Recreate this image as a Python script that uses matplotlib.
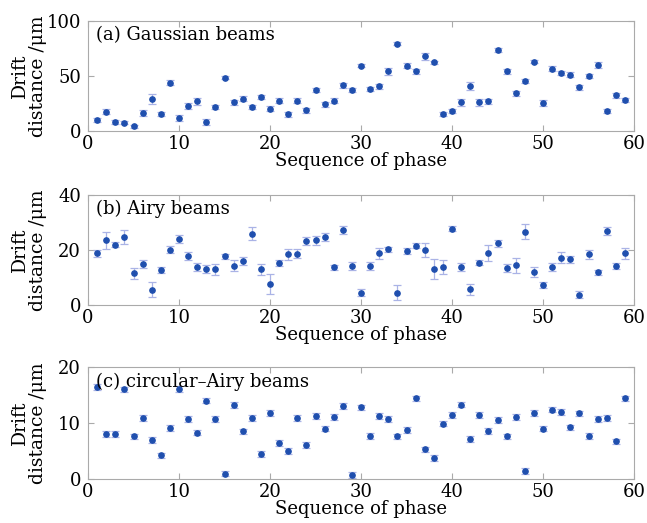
import numpy as np
import matplotlib
matplotlib.use("Agg")
import matplotlib.pyplot as plt

plt.rcParams['font.family'] = ['DejaVu Serif']

# sequence of phase
seq = list(range(1, 60))

# (a) Gaussian beams
gauss = [10, 17.6, 8.2, 7.6, 4.2, 16.4, 29, 15.5, 44, 12,
         22.7, 27, 8, 22, 48.5, 26, 29.4, 21.8, 31, 20.3,
         27.6, 15.2, 27.6, 18.8, 37.3, 24.2, 27.6, 41.5, 37.3, 59.4,
         38.2, 40.6, 54.2, 79.4, 59.4, 54.2, 68, 62.4, 15.5, 18.2,
         26, 41.2, 26, 27, 73.6, 54.2, 34.2, 45.4, 63, 25.5,
         56.7, 52.7, 51.2, 39.7, 50, 60, 18.2, 32.4, 28.2]
gauss_err = [1.5, 2, 1.5, 1.5, 1.5, 2.5, 4.5, 2, 2, 2.5,
             3, 3, 2.5, 2, 1.5, 2.5, 2, 2, 2, 2,
             2.5, 2.5, 2.5, 2, 2, 2, 2, 2, 2, 1.5,
             1.5, 2, 3.5, 1.5, 2.5, 2.5, 3, 1.5, 1.5, 2,
             3, 3.5, 3, 2, 1.5, 2, 2, 2, 1.5, 3,
             2, 2, 2.5, 2.5, 2, 2.5, 2, 2, 2]

# (b) Airy beams
airy = [18.8, 23.5, 22, 24.8, 11.5, 14.9, 5.5, 12.8, 20.1, 24,
        17.7, 13.7, 13, 13, 17.7, 14.2, 15.9, 26, 13, 7.6,
        15.2, 18.4, 18.7, 23.2, 23.5, 24.8, 13.7, 27.2, 14.2, 4.5,
        14.2, 18.8, 20.2, 4.5, 19.6, 21.6, 20, 13.2, 13.8, 27.8,
        13.8, 5.7, 15.4, 19, 22.5, 13.5, 14.4, 26.7, 11.9, 7.3,
        13.8, 17.1, 16.7, 3.8, 18.4, 11.9, 27, 14.2, 18.8]
airy_err = [1.2, 3.2, 1, 2.5, 2, 1.4, 2.7, 1, 1.2, 1.5,
            1.5, 1.5, 1.5, 2, 1, 2, 1.5, 2.5, 2, 3.5,
            1, 2, 1.5, 1.5, 1.5, 1.5, 1, 1.5, 1.5, 1.2,
            1.5, 2, 1, 2.8, 1, 1, 2.7, 3.6, 2.4, 1,
            1.5, 2, 1, 3, 1.3, 1.5, 2.7, 2.7, 1.8, 1.2,
            1.3, 2, 1.3, 1.3, 1.5, 1, 1.5, 1, 2]

# (c) circular-Airy beams
cab = [16.4, 8.0, 8.0, 16.0, 7.6, 10.9, 7.0, 4.2, 9.1, 16.1,
       10.7, 8.3, 14.0, 10.7, 0.95, 13.2, 8.5, 10.9, 4.5, 11.8,
       6.4, 5.0, 10.9, 6.1, 11.2, 9.0, 11.1, 13.0, 0.7, 12.8,
       7.7, 11.2, 10.7, 7.6, 8.8, 14.4, 5.3, 3.75, 9.9, 11.4,
       13.3, 7.1, 11.4, 8.6, 10.5, 7.6, 11.1, 1.4, 11.8, 9.0,
       12.4, 12.0, 9.2, 11.7, 7.7, 10.7, 10.9, 6.7, 14.4]
cab_err = [0.5] * 59

W, H = 647, 523
fig = plt.figure(figsize=(W / 100, H / 100), dpi=100)

panels = [
    (gauss, gauss_err, 100, [0, 50, 100], "(a) Gaussian beams", 131, 110),
    (airy, airy_err, 40, [0, 20, 40], "(b) Airy beams", 305, 110),
    (cab, cab_err, 20, [0, 10, 20], "(c) circular\u2013Airy beams", 479, 112),
]

for vals, errs, ymax, yt, title, bot, hgt in panels:
    ax = fig.add_axes([88 / W, (H - bot) / H, 546 / W, hgt / H])
    ax.errorbar(seq, vals, yerr=errs, fmt="o", ms=3.8, color="#1f4fae",
                ecolor="#aab3e6", elinewidth=0.9, capsize=3, capthick=0.9)
    ax.set_xlim(0, 60)
    ax.set_ylim(0, ymax)
    ax.set_xticks([0, 10, 20, 30, 40, 50, 60])
    ax.set_yticks(yt)
    ax.tick_params(direction="in", top=True, right=True, length=4,
                   color="#aaaaaa", labelsize=13)
    ax.tick_params(axis="x", pad=3)
    ax.tick_params(axis="y", pad=5)
    for s in ax.spines.values():
        s.set_color("#aaaaaa")
    ax.set_xlabel("Sequence of phase", fontsize=13, labelpad=-1)
    ax.set_ylabel("Drift\ndistance /\u03bcm", fontsize=13.5, linespacing=1.0)
    ax.yaxis.set_label_coords(-0.076, 0.5)
    ax.text(0.015, 0.87, title, transform=ax.transAxes, fontsize=13,
            va="center", ha="left")

fig.savefig("out.png", dpi=100)
